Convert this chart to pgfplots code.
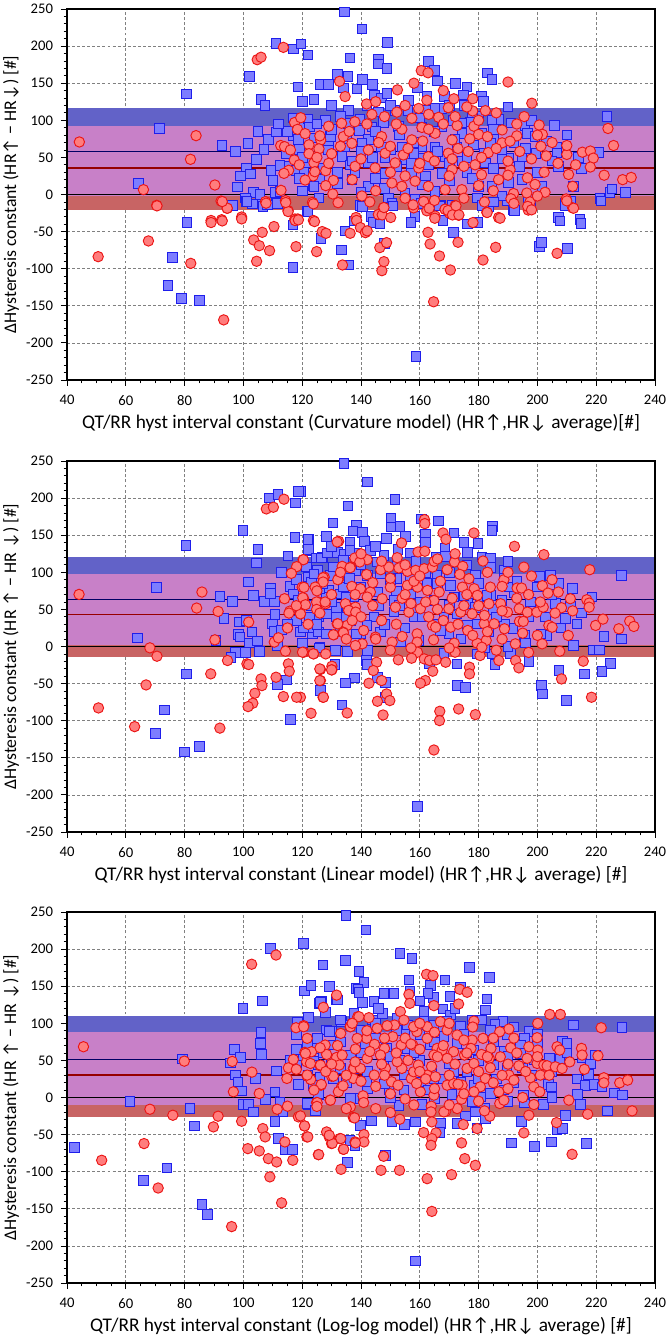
\documentclass[border=0pt]{standalone}
\usepackage{fontspec}
\setmainfont{Carlito}
\usepackage{pgfplots}
\pgfplotsset{compat=1.18}
\definecolor{bfill}{RGB}{125,125,255}
\definecolor{bdraw}{RGB}{30,30,235}
\definecolor{rfill}{RGB}{255,125,125}
\definecolor{rdraw}{RGB}{235,20,20}
\definecolor{bandB}{RGB}{98,98,200}
\definecolor{bandP}{RGB}{200,128,200}
\definecolor{bandR}{RGB}{200,100,100}
\definecolor{navyl}{RGB}{0,0,100}
\definecolor{dredl}{RGB}{150,0,0}
\pgfplotsset{
  panel/.style={
    width=441pt, height=278.25pt, scale only axis,
    xmin=40, xmax=240, ymin=-250, ymax=250,
    xtick={40,60,...,240}, ytick={-250,-200,...,250},
    minor x tick num=3, minor y tick num=4,
    tick pos=left, tick align=outside,
    major tick length=4.5pt, minor tick length=2.5pt,
    every tick/.style={black, line width=0.6pt},
    grid=major,
    major grid style={dash pattern=on 2.2pt off 1.6pt, color=black!50, line width=0.55pt},
    axis line style={black, line width=0.8pt},
    /pgf/number format/assume math mode=true,
    ticklabel style={font=\fontsize{11}{13}\selectfont},
    xticklabel style={yshift=-3.5pt},
    yticklabel style={xshift=-2.5pt},
    xlabel style={font=\fontsize{14.5}{16}\selectfont, at={(axis description cs:0.5,-0.116)}, anchor=center},
    ylabel style={font=\fontsize{13.3}{15}\selectfont, at={(axis description cs:-0.0952,0.5)}, anchor=center},
    clip=true,
  },
  bl/.style={only marks, mark=square*, mark size=3.6pt, mark options={fill=bfill, draw=bdraw, line width=0.7pt}},
  rd/.style={only marks, mark=*, mark size=3.9pt, mark options={fill=rfill, draw=rdraw, line width=0.7pt}},
}
% #1 red low, #2 blue low, #3 red high, #4 blue high, #5 blue mean, #6 red mean
\newcommand{\bands}[6]{%
  \addplot[draw=none, fill=bandR] coordinates {(40,#1) (240,#1) (240,#2) (40,#2)} -- cycle;
  \addplot[draw=none, fill=bandP] coordinates {(40,#2) (240,#2) (240,#3) (40,#3)} -- cycle;
  \addplot[draw=none, fill=bandB] coordinates {(40,#3) (240,#3) (240,#4) (40,#4)} -- cycle;
  \addplot[navyl, line width=0.9pt] coordinates {(40,#5) (240,#5)};
  \addplot[dredl, line width=0.9pt] coordinates {(40,#6) (240,#6)};
  \addplot[black, line width=1.1pt] coordinates {(40,0) (240,0)};
}
\newcommand{\frameit}{\draw[black, line width=0.8pt] (rel axis cs:0,0) rectangle (rel axis cs:1,1);}
\begin{document}
\begin{tikzpicture}
\path[use as bounding box] (0,0) rectangle (502.5pt,1004.25pt);
% ================= Panel 1 =================
\begin{axis}[panel, at={(50.25pt,719.25pt)}, anchor=south west,
  xlabel={QT/RR hyst interval constant (Curvature model) (HR↑,HR↓ average)[\#]},
  ylabel={ΔHysteresis constant (HR↑ − HR↓) [\#]}]
\bands{-20.5}{-1.6}{92.8}{116.6}{58}{35.7}
\addplot[bl] coordinates {
(111.1,203.3) (117,196) (119.6,203) (122,188) (102,159) (80.7,135.5) (106,128) (107.3,120) (118.5,145) (120,125.6) (124,128) (126,148) (129,148) (130,120) (71.4,89) (92.7,66) (97.4,58) (101.5,69) (105,84.7) (108.6,74) (111.3,84) (107,61) (104.5,47) (101,35) (99,25) (102.4,27.6) (109.4,32.6) (110,19) (98,10) (103.4,3) (105.6,0) (100.7,-4.7) (101,-9) (103,-13) (106.5,-13) (111.3,-10) (111,3) (95.8,-14.6) (64.3,15) (117,103) (119.6,92.8) (122,101.8) (122.4,91) (117,79) (118.7,74) (119,61) (114.7,55) (115.6,38) (118,32.6) (120.6,32.6) (119,22) (120,5) (123.8,12) (126,21) (121.5,43) (124,76) (129,71.6) (129.6,78) (129,60) (125.7,-4.7) (121.7,-22) (124,11) (112.4,39) (112.4,4.3)
(134.4,246) (140.3,223) (149.1,205) (136.2,184) (146,182) (146,176) (148.8,170) (162.9,179) (164.9,167) (166,153) (172.1,150) (176,145) (174.8,134) (183.1,164) (184.5,155) (135.5,159) (132,161.5) (140.5,155) (143.9,148.5) (138.6,142) (159.3,144) (134,143.5) (144.5,134) (147,130) (148.8,136) (156.1,127) (162.4,133) (168.4,132) (181,133) (181.7,125) (223.6,105) (205.8,92.7) (195.8,92.7) (196.6,82) (199.2,78) (191,96.5) (186.7,101) (184.5,100) (180,105) (177,98) (174.3,96.5) (171.5,100) (167.5,116) (165.2,116) (162,113) (156,113) (151.6,113) (146,111) (139.7,102) (135.8,113) (135.8,96) (139.4,86) (143.7,91) (142.5,74) (147.6,97) (152.8,92) (160.7,91) (167.5,91) (174.3,82) (181,82) (185,75) (184,69) (178.3,67) (172.6,64) (165.2,64) (160.7,64) (153.9,64) (147,64) (140.3,69) (134.6,64) (133.5,51.6) (136.3,40) (142.5,42.5) (148.2,49) (155,47) (160.7,49) (168.6,51.6) (174.3,45) (182.3,42.6) (190.2,49) (194.7,51.6) (199.5,55) (206.6,63) (206.6,56) (214,50) (221,56.6) (207.2,38) (194.7,20) (190.2,16) (184.5,11) (180,11) (179.7,-4.7) (182.8,-15) (189.7,-6.5) (191.9,-21) (197,-6.5) (209.4,-12) (212.3,11) (221.3,-5.7) (224.7,3) (230,3) (225.3,7.7) (201.5,11) (142.5,11) (149.4,-4.7) (150.5,-12) (158.4,-6.5) (165.2,4.3) (167,-15) (170.9,-15) (139.7,-14.5) (160.7,13) (167.5,28.7) (157.2,28.7) (148.2,28.7) (136.9,20) (143.7,-29.4) (158.4,-29.4) (207.2,-31) (214.5,-34)
(80.8,-37.4) (75.8,-84.7) (74.4,-123) (78.9,-140) (85,-142.8) (96.2,-14.9) (101.2,-9.5) (106.6,-16) (108.2,-14) (111.5,-11.7) (122,-23) (116.9,-41) (116.9,-98.6) (126.4,-59) (133.4,-74.8) (134.5,-49) (135.8,-95) (137.6,-35.6) (140.4,-16) (143.6,-29.7) (144.2,-37.4) (146.5,-39.6) (148,-65.8) (150.9,-15.3) (157,-37.8) (158.7,-218) (160.6,-11.7) (166.7,-15.3) (167.9,-35) (171.5,-51) (176.2,-39.6) (179.7,-37.8) (181.4,-14.9) (183.5,-16) (192.2,-21.6) (189.9,-8.6) (197.8,-10) (200.7,-70) (201.4,-64.4) (207.7,-35.6) (209.4,-15.3) (210.3,-72.5) (214.8,-38.7) (221.6,-8.6) (211.3,-8.6)
(138,30) (145,22) (152,38) (158,55) (163,40) (170,42) (176,30) (185,35) (188,58) (192,70) (196,62) (185,88) (178,110) (170,120) (160,103) (153,80) (145,85) (140,58) (135,75) (130,88) (127,35) (132,15) (140,3) (155,2) (170,18) (178,22) (188,-2) (200,30) (205,45) (215,35) (198,100) (190,118) (175,120) (150,120) (142,120) (128,100) (132,30) (148,8) (162,25) (172,75) (182,55) (165,85) (158,70) (150,60) (144,50) (137,45) (194,38) (203,72) (210,80) (185,-10) (120,50) (115,85) (112,95) (125,95) (133,105) (157,42) (166,58) (176,50) (188,48)
};
\addplot[rd] coordinates {
(44.2,70.8) (83.9,79.3) (82,47.4) (66,6.5) (70.5,-14.6) (90.3,12.8) (92.4,-8.8) (94.5,-18.6) (104.7,181.7) (106,185) (113.6,198.3) (117.4,97) (119.5,103.5) (118.4,87.8) (112.7,66) (114,64.5) (122.3,67) (126.3,73.4) (125.7,61.6) (122.3,55) (117.3,46.5) (115.4,32.6) (113.8,28.5) (124,42.6) (123.7,25) (121,19.5) (124.3,30.7) (128,32) (129,92) (129,42) (126,79) (112.8,5.6) (107.5,-9.6) (114.3,-8.3) (115.2,-21.8) (123.5,-10.7) (117.5,-33) (118.5,-33) (89,-35) (92.6,-34) (99.4,-30.3) (123.8,-35) (130.4,0.7) (130.6,19)
(160.5,167) (162.8,164) (190,151.6) (198.1,123) (195.5,105) (224,89) (225.9,66) (200.6,93.6) (201.7,81) (193,79) (188,87) (178.4,92) (178,129) (171.6,129) (162.4,127) (152.4,141) (134.6,132) (132.7,152.5) (141.9,122) (159.6,116) (169.7,117) (182.3,113) (178,112.6) (152.2,111) (143.7,108) (157.3,102.7) (166.4,104) (172.7,93) (180,81) (188,69.6) (190.7,71.8) (201.2,65) (210,54) (215.3,57) (218,58.6) (219,49) (218,37) (222.7,26) (229,20) (231.9,23) (212,11) (210.6,27) (202.3,30) (199.2,13.6) (202.6,3) (196.6,22.5) (196.4,2) (197.5,-10) (196.9,-21) (209.8,-6) (212,-18) (191.9,1.3) (191,-5.7) (182.8,-24) (186.8,-31) (172,-15) (168.6,-20) (165.2,-29) (173.2,-28) (157.9,-18) (147.6,-18) (145.9,-27) (138.3,-31) (132.2,-11) (140.3,-2) (153.9,11) (150.5,15.5) (158.4,18) (162.9,11) (168.6,6.5) (174.3,6.5) (181,26.7) (186.8,20) (190.7,33.5) (144.8,35.8) (138,38) (151.6,42.6) (159.6,35.8) (171,33.5) (178.8,40) (142.5,60) (148.2,55.6) (154.4,53.3) (162.9,51) (169.7,55.6) (176.5,58) (183.3,56.5) (136.9,69) (147,78) (157.3,73.6) (165.2,82.5) (171,73.6) (134,78) (133.4,96) (137.9,98) (160.7,90.4) (153.9,88)
(50.6,-83.8) (67.7,-62.6) (70.6,-15.3) (82.1,-92.8) (89,-37.8) (92.8,-35.6) (94.5,-18.5) (92.8,-9.5) (99.4,-32.9) (93.3,-169) (103.5,-61.3) (105.4,-69) (104.5,-90) (106.4,-51) (108.9,-75.7) (107.7,-11.7) (110.4,-43.2) (115.2,-23) (114.4,-10.8) (117.9,-70.3) (117.6,-35.1) (118.7,-34.2) (123.8,-12.6) (124.2,-36.5) (124.9,-77) (126.8,-50) (128.1,-52.3) (133.7,-95) (136.3,-52.3) (138.5,-35) (139.8,-44.6) (141.5,-51.4) (142.1,-49) (146.4,-71.6) (147.1,-102.7) (147.8,-90.5) (148.7,-64.9) (147.2,-27.5) (147.8,-17.6) (150.1,-31) (157.7,-14) (161.3,-9.5) (162.4,-22) (162.8,-51) (163.5,-66.7) (164.7,-144.6) (165.1,-32) (163.2,-18.5) (166.7,-82.9) (168.6,-19.8) (170.1,-25.2) (169.6,-21.6) (170.4,-101.8) (172.3,-15.3) (171.1,-27.5) (173.3,-27.5) (173,-64.4) (178.1,-37.8) (181.5,-88.3) (182.9,-24.3) (187.3,-32) (185.8,-71.2) (196.7,-16) (198,-20.7) (206.7,-79.3) (212.3,-18.5) (210,-8.6)
(140,48) (146,70) (152,95) (156,62) (161,72) (165,45) (168,95) (173,62) (177,75) (181,50) (186,62) (190,45) (194,58) (198,48) (203,52) (207,42) (213,40) (150,30) (155,25) (160,42) (170,25) (175,38) (180,12) (185,5) (190,26) (145,5) (137,20) (130,55) (133,65) (136,85) (142,95) (148,105) (155,120) (163,108) (172,105) (180,100) (186,110) (193,95) (200,80) (205,70) (210,66) (128,12) (125,50) (119,40) (116,60) (121,82) (143,-10) (155,-5) (165,-8) (175,-5) (182,-10) (192,-12) (200,-2) (145,125) (168,140) (176,118) (158,150) (150,65) (163,88) (171,48) (183,78)
};
\frameit
\end{axis}
% ================= Panel 2 =================
\begin{axis}[panel, at={(50.25pt,380.25pt)}, anchor=south west,
  xlabel={QT/RR hyst interval constant (Linear model) (HR↑,HR↓ average) [\#]},
  ylabel={ΔHysteresis constant (HR ↑ − HR ↓) [\#]}]
\bands{-13.5}{1.5}{98}{120.7}{63}{42.8}
\addplot[bl] coordinates {
(134.2,246.6) (142.3,222) (119.4,209) (151.5,198) (135.6,189.5) (130.5,166.5) (138.5,163) (137.3,155.7) (140.4,154) (128.3,148.5) (122.2,144.5) (150.2,173) (150.2,161) (153.2,162) (160.5,172) (166.3,169) (161.9,151) (171.6,153) (184.8,162) (184.6,156.6) (179.8,138.6) (148.7,145.8) (155.1,148.5) (141.2,141.8) (136.2,140.9) (152.6,130.5) (156.6,126) (168.6,132) (176.3,126.5) (122.2,129.6) (126.8,119.7) (131.9,127) (134.2,123.8) (138.1,125) (143.2,129.6) (147.8,122.9) (145.5,113.9) (152.3,113.9) (158.7,115) (165.7,120.6) (168.8,121.5) (181.2,120.6) (184,118.4) (184,106.2) (188.8,102.6) (200.7,94.5) (204.4,95.9) (207.3,84.6) (228.5,95.9) (218.6,66.6) (192,72) (190.3,80) (188.6,91.4) (184,68.9) (180.6,66.6) (178.9,95.9) (170.4,82.4) (165.9,95.9) (162.5,84.6) (156.8,95.9) (152.3,91.4) (146.7,98.1) (142.1,95.9) (138.1,102.6) (134.2,116) (131.9,107) (129.6,95.9) (125.1,102.6) (122.8,89) (129,75.6) (133,71) (137.5,66.6) (145.5,73.4) (151.2,62) (156.8,71) (164.8,62) (171.6,66.6) (176.3,57.6) (178.9,53) (182.9,68.9) (197.6,59.9) (206.1,57.6) (211.2,54) (202.7,39.6) (209.5,37.4) (213.5,30.6) (203.3,14.9) (201.2,17.1) (195.6,14.9) (191.7,23.9) (188.8,30.6) (183.5,19.4) (179.5,30.6) (176.3,28.4) (169.9,17.1) (164.8,30.6) (159.7,8.1) (153.4,5.9) (146.6,19.4) (142.1,-5.4) (135.3,-6.8) (131.3,-5.4) (126,-1) (123.4,17.1) (119.4,19.4) (125.6,39.6) (131.9,46.3) (136.4,35.1) (139.8,17.1) (133,23.9) (144.4,39.6) (151.2,46.3) (158,39.6) (168.2,39.6) (172.7,44.1) (212.2,1.3) (219,-4.5) (221.2,-4.5) (228.5,10.4) (222.6,13.5) (224.9,-22.5) (222,-33.8) (216.1,-36.9) (207.3,-32.4) (201.4,-52.7) (201.7,-63.9) (209.9,-72.9) (197.1,-19.8) (190.8,-9) (185.5,-24.3) (184.6,-9.9) (179.5,-9.9) (172.7,-23.4) (172.9,-52.7) (175.5,-54.9) (168.2,-9) (163.3,-22.5) (159.3,-215.6) (148.3,-48.2) (148.3,-68.4) (145.5,-41.4) (141.9,-18.9) (142.1,-24.3) (137.8,-42.3) (134.7,-49) (126.2,-59.4) (133.5,-78.8)
(108.8,200.3) (111.8,205.2) (118.8,209.3) (117.7,193.5) (99.8,156.6) (80.5,136.4) (105,131) (117.6,146.7) (122,144) (122.1,130.5) (115.2,122) (104.5,112.5) (124.9,119.3) (126.6,119.3) (128.5,126) (70.5,79.7) (101.7,86.9) (92,67.5) (96.3,60.3) (103.4,68.9) (107.1,60.3) (110.5,60.3) (109.2,78.8) (109.3,71.1) (93.4,37.4) (98.6,32.9) (101.1,35.1) (102.9,19.4) (98.3,16.2) (98.8,12.6) (102,5) (104.7,7.2) (110.7,43.2) (109.9,30.6) (110.6,20.3) (113,22.5) (111.5,1.4) (63.9,11.7) (90.7,8.1) (97.4,-7.7) (100.8,-7.7) (105.5,-6.3) (95.8,-14.4) (80.7,-36.9) (73.1,-85.5) (114.7,-45) (111.5,-51.3) (125.8,-1.8) (131.2,-24.3)
(115.8,81) (117,71) (118.7,62) (121.5,107) (122,93.6) (123.2,86.9) (124,98) (122.4,39.6) (123.7,26) (125.5,19.4) (120.4,26) (118,35) (119.2,50.9) (128.3,44) (131.7,39.6) (131.7,53) (134,80) (134.9,66.6) (128.3,66.6) (126,78) (130.6,107) (134,116) (136.3,129.6) (138,48.6) (128.3,17) (138.5,17)
(70,-117) (80,-142) (85,-135) (116,-98)
(140,80) (146,55) (152,75) (158,52) (162,100) (166,85) (170,55) (175,68) (180,85) (185,50) (188,62) (193,88) (197,40) (205,70) (212,78) (215,45) (130,60) (127,85) (123,55) (118,90) (113,100) (135,40) (142,28) (148,30) (155,25) (161,40) (167,22) (174,10) (182,-2) (190,0) (196,5) (150,90) (155,105) (170,100) (176,110) (140,110) (130,135) (145,135) (162,140) (175,140) (190,115) (200,80) (208,25) (186,40) (160,60) (153,55) (136,92) (125,30) (115,30) (120,5)
};
\addplot[rd] coordinates {
(161.6,171) (161.7,165.6) (167.9,153) (168.9,144.5) (178.4,153) (192.2,135) (202.2,123.8) (132.4,141.8) (131.9,140.9) (153.8,139.5) (159.4,127.4) (161.7,128.3) (152.3,119.7) (120.3,117) (137.9,119.3) (142.1,117) (139.6,113.9) (133.6,108) (136.4,107) (141.9,97) (146.7,103.5) (149.5,107) (152.9,105.8) (155.8,101.3) (158.6,102.6) (161.5,104.9) (164.3,107) (164.9,114.8) (169.3,103.5) (171.8,113.9) (174.6,108) (173.6,97.2) (181.5,115.2) (195.4,107) (217.8,103.5) (176.7,91.4) (188.6,90) (188,81) (193.1,78.8) (194.6,78.8) (201.7,81.9) (203.6,72) (207.1,73.4) (211.2,64.4) (216.8,63) (217.6,58.5) (217.6,53) (127.5,93.6) (124.9,80) (132.4,91.4) (136.9,81) (139.8,77.9) (143.2,73.4) (150,80) (155.8,82.4) (159.2,80) (162.6,75.6) (166.6,73.4) (174.5,80) (178.5,77.9) (179.6,68.9) (120.5,64.4) (125.6,59.9) (127.9,57.6) (134.7,57.6) (138.1,53) (142.1,66.6) (147.2,64.4) (151.7,53) (156.3,46.3) (160.2,50.9) (164.8,62) (169.9,50.9) (173.9,46.3) (177.8,44.1) (183.5,57.6) (187.5,57.6) (189.8,46.3) (193.8,50.9) (196.6,46.3) (199.8,46.3) (202,53) (208.2,52.2) (119.4,44) (120,80) (131.9,30.6) (135.3,28.4) (130.7,15.8) (133.9,19.4) (140.9,21.6) (144.9,12.6) (150.6,5.9) (154,13.5) (159.1,17.1) (164.3,28.4) (165.4,26) (170.5,26) (176.3,21.6) (181.9,30.6) (185.3,30.6) (188.8,23.9) (193.9,33.8) (195.2,33.8) (203.9,28.4) (205,26) (210.5,14.9) (219.8,28.4) (222.3,36.9) (227.7,23.9) (231.4,34.2) (232.8,27) (201.6,3.6) (192.5,3.6) (182.6,8.1) (179.5,4.5) (171.7,4.5) (164.7,9) (159.1,5.9) (140.4,3.6) (138.1,1.3) (120.5,-7.7) (123.9,-9.9) (159.2,-7.7) (157.2,-15.8) (152.7,-18) (161.5,-16.7) (163.3,-18.9) (165.5,-18) (168.8,-21.2) (172,-7.7) (180.5,-12.2) (181.1,-1) (186.9,-18.9) (192.6,-18.9) (193.7,-28.8) (207.6,-6.3) (215.6,-19.8) (208.2,-43.7) (218.4,-68.4) (176.9,-27.9) (176.9,-36.9) (164.4,-33.3) (161.9,-45.9) (160.2,-49.5) (166.8,-87.3) (166.7,-99.9) (164.8,-139.5) (173.2,-84.2) (178.9,-91.8) (145.3,-21.2) (144.2,-32.4) (142.7,-49.5) (147,-45.9) (145.6,-73.8) (148.7,-63.9) (149.8,-72.9) (147.5,-92.3) (126.2,-31) (130.1,-26.6) (130.1,-31.5) (126.2,-45.9) (127.1,-68.4) (135.3,-89.6) (119.4,-68.4)
(113.8,198.5) (107.8,185.4) (110.2,187.7) (120.4,117) (118.1,107.6) (116.3,98.6) (127.1,92.7) (127.1,86.9) (132.1,90) (136.3,106.2) (120.6,79.7) (124.4,80) (114,64.4) (120.2,65.7) (121.1,56.3) (124.9,60) (127.8,60) (115.8,47.7) (115.5,45) (119.4,44) (124.9,50) (135.8,48.6) (138.2,46.3) (44.1,70.2) (85.9,73.4) (84.1,51.8) (91.4,47.3) (101.8,32.9) (90.3,9) (110.5,5.9) (111.9,11.7) (130.6,15.8) (132.1,30.6) (134,18.5) (68.2,-1.8) (70.6,-13.1) (94.6,-18.9) (101.2,-23.4) (101.8,-24.3) (114.3,-6.3) (120.1,-7.7) (123.8,-9.9) (115.3,-23.4) (115.6,-33.3) (111.1,-41.4) (106,-43.7) (106.3,-52.7) (103.9,-63) (103.2,-76.5) (101.6,-81) (113.6,-67.5) (118.1,-68.4) (126,-30.2) (130,-31.5) (126,-45.9) (127.2,-68.4) (88.9,-36.9) (66.9,-51.8) (50.7,-82.8)
(63,-108) (92,-110) (123,-90)
(138,70) (144,86) (150,92) (154,65) (158,88) (162,60) (167,88) (171,65) (176,70) (180,55) (184,80) (188,48) (193,65) (197,70) (201,60) (206,45) (212,48) (140,40) (147,35) (152,30) (157,58) (163,40) (168,35) (173,30) (178,15) (183,20) (188,10) (195,18) (200,15) (130,70) (126,45) (122,30) (133,100) (140,125) (147,115) (155,110) (166,118) (172,125) (183,100) (190,100) (198,95) (205,90) (145,10) (150,-5) (157,-2) (170,-2) (186,-5) (197,-8) (135,10) (128,-10) (155,70) (166,50) (175,55) (182,42) (160,95) (144,55) (137,35) (125,75) (118,55) (115,25)
};
\frameit
\end{axis}
% ================= Panel 3 =================
\begin{axis}[panel, at={(50.25pt,42pt)}, anchor=south west,
  xlabel={QT/RR hyst interval constant (Log-log model) (HR↑,HR↓ average) [\#]},
  ylabel={ΔHysteresis constant (HR ↑ − HR ↓) [\#]}]
\bands{-26.6}{-9.5}{88}{110}{51.4}{30.2}
\addplot[bl] coordinates {
(134.9,245) (109.2,201) (120.4,208) (127,178.7) (134.8,184.5) (139.3,169.7) (99.8,120) (106.4,130) (120.7,143.6) (123,150.8) (129.2,149.4) (131.7,131.4) (125.8,127) (126.6,129.2) (138.5,147) (122.1,107.6) (118.3,101.3) (118.1,84.2) (106,87.8) (105.9,72.9) (106.2,58) (96.9,64.8) (99.1,54) (79.3,52.2) (95.6,46.8) (97.4,30.2) (98.2,21.2) (99.4,8.6) (104.2,25.7) (111.3,36) (110.8,7.7) (107.6,-2.3) (99.8,-9) (101.8,-9) (103.4,-19.4) (112.4,-6.8) (113.4,-19.4) (110.8,-32) (121.9,-9) (124.4,-14.9) (125.5,3.2) (125,16.6) (118.7,17.5) (120.4,52.7) (115.9,50.4) (118.1,43.7) (125,66.2) (123.8,48.2) (126.1,27.9) (128.3,91) (130,88.6) (131.7,70.7) (133.4,102.2) (136.3,97.7) (138,39.2) (137.4,-1.4) (61.4,-5) (81.8,-14.9) (83.3,-38.3) (42.5,-67.5) (111.9,-55.4) (114.2,-69.8) (116.7,-69.8) (135.4,-87.8) (136.3,-57.6)
(141.7,226) (153.2,194.4) (157.4,187.7) (141,155.3) (139,146.3) (139.3,141.8) (156.3,158.4) (156.6,143.6) (163.6,150.8) (168.6,158.4) (176.9,175) (183.6,161.6) (182.9,132.8) (182.4,117.9) (170.2,135.9) (164.6,134.6) (162.8,140.4) (161.4,115.7) (151.2,140.4) (147.8,140.4) (144.4,129.2) (140.4,128.3) (131.9,131.4) (126.2,128.3) (167.9,119.3) (170.4,111.2) (173.8,148.1) (212.2,97.7) (228.8,94) (208.6,75.2) (210.1,72.9) (197.1,88.6) (195.6,79.7) (200.1,72.9) (194.2,70.7) (189.7,84.2) (188.3,102.2) (185.5,99) (181.2,104.4) (177.8,104.4) (173.8,95.4) (169.3,102.2) (164.8,97.7) (161.4,102.2) (155.9,97.7) (152.3,106.7) (147.2,113.4) (143.8,104.4) (137.6,113.4) (133.1,104.4) (129.2,88.6) (125.1,79.7) (121.7,70.7) (130.7,70.7) (136.4,57.2) (141.5,72.9) (148.7,66.2) (155.7,66.2) (163.6,70.7) (168.2,81.9) (172.7,72.9) (178.4,63.9) (183,57.2) (188.6,61.7) (194.2,59.4) (198.8,50.4) (204.1,52.7) (207.7,51.8) (215.2,53.6) (219.8,56.3) (217.3,31.1) (213.4,24.8) (216.4,16.6) (219.2,17.5) (222,14.4) (226.2,6.3) (229,3.2) (213.7,4.1) (214.6,-9.5) (203.7,17.5) (204.7,14.4) (202,-9.5) (195.6,-6.8) (195.2,3.2) (188.6,9.9) (184,5.4) (180.6,0.9) (182,-14.9) (182.3,-28.4) (178.9,-19.4) (179.5,-41) (175.5,-24.8) (172.7,-34.7) (167,-34.7) (166.8,-47.3) (160.8,-9.5) (158.5,-32.9) (154.8,-36.5) (150.6,-32) (152.9,-10.4) (143.6,-31.5) (139.8,-37.4) (137.9,-64.4) (148.3,-77.9) (158.5,-220.5) (191.2,-61.2) (199,-65.7) (204.8,-59.9) (206.7,-43.2) (208.6,-41.9) (209.5,-23.9) (216.7,-62.1) (223.9,-18) (194.6,-32) (121.7,-8.1) (124.5,-17.1) (123.9,16.6) (125.6,5.4) (130.7,25.7) (136.4,-1.4) (142.1,12.2) (149.5,9.9) (154.6,9.9) (160.3,21.2) (164.8,25.7) (171,4.1) (171.6,34.7) (176.1,34.7) (178.4,16.6) (185.2,43.7) (189.7,39.2) (125.6,43.7) (133,39.2) (142.1,34.7) (147.8,43.7) (154.6,30.2) (164.2,34.7)
(66,-112) (74,-95) (85.9,-144) (87.7,-157.7)
(140,60) (145,80) (150,55) (155,85) (160,50) (165,75) (170,45) (175,85) (180,50) (185,75) (190,55) (195,40) (200,85) (205,35) (210,60) (218,45) (130,50) (127,60) (122,30) (118,65) (135,20) (142,22) (148,18) (153,50) (158,60) (163,10) (168,25) (174,20) (180,25) (186,25) (192,20) (198,30) (145,100) (152,90) (160,85) (168,95) (176,60) (184,90) (192,95) (140,90) (133,75) (128,115) (146,120) (160,130) (172,120) (150,0) (165,-2) (178,-5) (190,-5) (205,0)
};
\addplot[rd] coordinates {
(111.1,192) (102.8,179.6) (131.7,138) (127.2,121.5) (120.5,96.8) (117.9,94) (45.6,68.4) (79.9,49) (96.2,48.6) (102.9,34.2) (96.6,7.7) (105.4,5.4) (114.8,25.7) (115.3,40) (117,51.3) (121.5,48.2) (120.9,60.8) (123.2,61.7) (126.1,42.8) (121.7,28.8) (122.9,24.3) (126.4,16.6) (127.8,70.7) (128.3,58) (126.1,67) (130,28.8) (131.7,54) (132.6,43.7) (133.4,14.4) (132.3,7.7) (137.4,39.2) (138.1,65.3) (138.9,108.9) (136.3,95.4) (137.4,25.7) (124.9,-6.8) (129.5,-3.6) (115,-11.7) (111.5,-15.8) (118.7,-26.1) (120.8,-38.3) (121.6,-53.1) (128.3,-46.4) (129.2,-53.1) (130,-62.1) (132.8,-55.4) (134,-69.8) (138,-59.9) (137.4,-27) (99.4,-32) (106.6,-41.9) (107.4,-53.1) (114.1,-59.9) (101.5,-68.9) (105.4,-72) (108.5,-82.4) (111.3,-86.9) (116.8,-84.6) (125.5,-77) (89.8,-39.6) (91.4,-25.2) (76,-23.9) (68.2,-15.8) (66.2,-62.1) (51.8,-84.6)
(162.3,166) (164.5,164.3) (173.6,145.8) (176.1,141.8) (173.2,126) (164.8,123.8) (156.3,139) (156.6,126.9) (204.2,112) (207.8,112) (200.1,99.9) (221.7,94) (190.3,92.3) (187.2,88.6) (190.9,67) (178.4,103) (181.5,79.7) (177.8,77.4) (184.2,66.2) (183.6,52.7) (187.4,54.9) (181,58) (177.4,66.2) (175.2,57.2) (172.7,84.2) (167,102.2) (169.3,90.9) (165.9,66.2) (162.5,95.4) (162.5,79.7) (159,88.6) (157.9,95.4) (153.4,115.7) (154.6,104.4) (151.4,97.7) (148.9,96.8) (145.5,93.2) (142.7,107.6) (139.3,108.9) (136.4,95.4) (133.1,86.4) (141.9,79.7) (138.7,79.7) (144.6,71.6) (148,66.2) (150.8,81.9) (153.7,70.7) (157.6,70.7) (167.6,63.9) (171.5,61.7) (175,77.4) (199.9,80.6) (197.1,68.4) (200.1,63.9) (206.7,68.4) (207.6,63.9) (215,66.2) (215.2,57.2) (220.6,56.3) (196.5,52.7) (199.9,45.9) (202.2,43.7) (203.3,42.8) (206.1,41.4) (208.4,39.2) (193.7,42.8) (190.3,30.2) (192,23.4) (197.6,26.6) (201,30.2) (198.8,14.4) (200.8,7.7) (198.8,-9.5) (197.1,-23.9) (195.4,-47.7) (210.7,-3.6) (206.5,-33.8) (217.1,-22.5) (211.8,-76.5) (222.6,26.6) (222.6,19.8) (228,19.8) (230.7,23.4) (232.2,-18) (187.2,-8.1) (188.6,-3.6) (186.9,7.7) (183.8,-25.2) (182.3,25.7) (180.6,14.4) (178.4,7.7) (174.2,-2.3) (172.7,-14.9) (174.8,-36.5) (179.5,-41.9) (174.2,-61.2) (175.3,-82.4) (178.9,-91.4) (170.8,-104) (169.3,16.6) (168.8,-18.5) (168.2,-19.4) (163.9,-11.7) (163.8,-19.4) (164.1,-32.9) (165.5,-47.7) (164.1,-55.4) (163.8,-64.4) (161.3,-47.3) (162.5,-109.4) (164.1,-153.5) (150,-20.3) (153.2,-29.3) (153.1,-98.1) (146.8,-98.1) (147.7,-79.2) (141,-50) (141,-59.9) (138.1,-61.2) (137.8,-27.5) (134.1,-69.8) (133.1,-55.4) (130.2,-61.7) (129.2,-50.9) (125.6,-77) (133.2,-96.8) (121.9,-53.1) (120.8,-38.3) (119.4,-24.8) (125.1,-6.8) (129.6,-3.6) (140.7,2.3) (140.9,-6.8) (136.4,-12.6) (160.2,7.7) (164.8,3.2) (126.5,17.6) (130.6,28.8) (133.9,15.8) (137.6,39.2) (144.5,30.2) (150.4,21.2) (152.6,16.6) (157.1,25.7) (158.9,18.9) (162.5,30.2) (165.3,27.9) (171.5,18.9) (174.4,16.6) (176.1,39.2) (178.4,45.9) (148.3,39.2) (153.9,39.2) (157.9,34.7) (159.5,43.7) (142.1,52.7) (139.8,39.2) (133.6,57.2) (126.2,43.7) (121.7,30.2) (122.8,45.9) (121.1,59.4) (146.6,57.2) (152.3,48.2) (164.8,57.2) (169.3,52.7) (121.7,79.7) (120.5,95.4)
(71,-122) (96,-174) (109,-107) (113,-142)
(138,48) (143,62) (147,45) (152,60) (156,50) (160,65) (164,42) (168,70) (172,45) (176,60) (180,35) (184,40) (188,30) (193,60) (196,35) (204,30) (211,48) (216,38) (135,30) (140,22) (145,15) (150,5) (155,-2) (160,35) (165,12) (170,30) (175,5) (180,-5) (185,20) (190,12) (195,0) (128,35) (124,10) (118,38) (132,70) (137,100) (142,90) (148,80) (155,80) (160,100) (165,88) (170,100) (178,95) (185,80) (192,80) (200,55) (145,-15) (158,-10) (170,-10) (182,-18) (125,-12) (135,-15) (148,30) (162,25) (173,18) (157,72) (166,55) (183,55) (190,45) (130,45)
};
\frameit
\end{axis}
\end{tikzpicture}
\end{document}
